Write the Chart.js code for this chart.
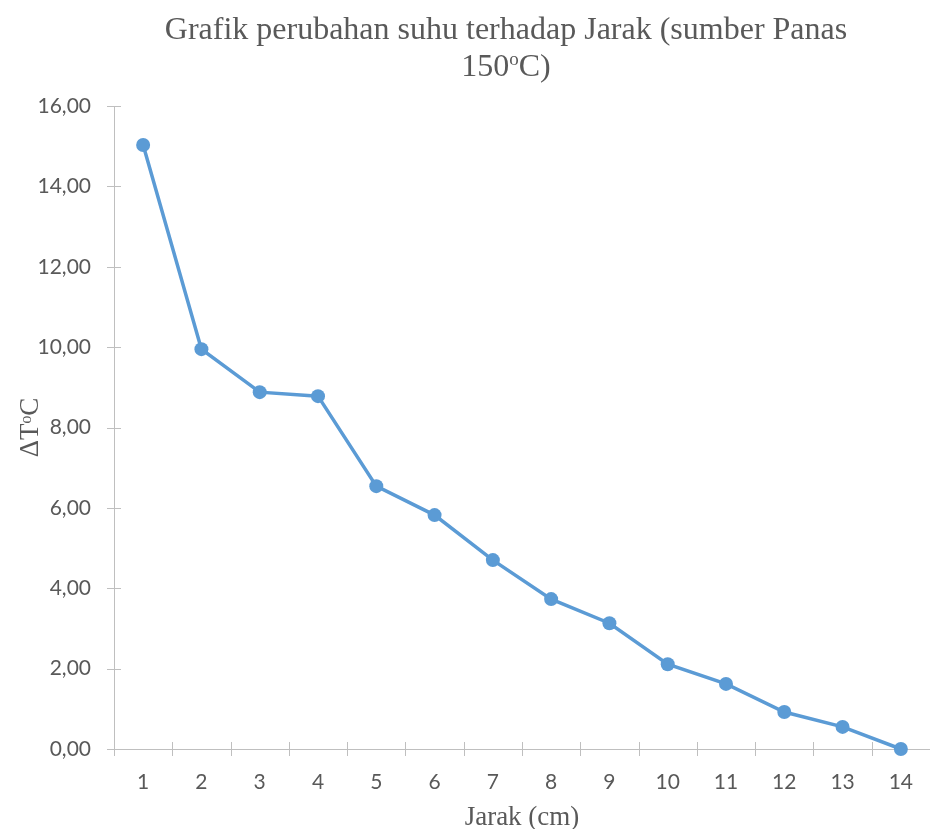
<!DOCTYPE html>
<html>
<head>
<meta charset="utf-8">
<script src="https://cdn.jsdelivr.net/npm/chart.js@4.4.0/dist/chart.umd.min.js"></script>
<style>
  html, body { margin: 0; padding: 0; background: #fff; }
  #wrap { position: relative; width: 930px; height: 829px; }
  #title {
    position: absolute; left: 56px; width: 900px; top: 10px;
    text-align: center; font-family: "Liberation Serif", serif;
    font-size: 32px; line-height: 37px; color: #595959;
  }
  #title sup { font-size: 19px; vertical-align: 11px; line-height: 0; }
  canvas { position: absolute; left: 0; top: 0; }
</style>
</head>
<body>
<div id="wrap">
  <canvas id="suhuChart" width="930" height="829"></canvas>
  <div id="title">Grafik perubahan suhu terhadap Jarak (sumber Panas<br>150<sup>o</sup>C)</div>
</div>
<script>
// Data: jarak (cm) vs perubahan suhu
const jarakLabels = ["1", "2", "3", "4", "5", "6", "7", "8", "9", "10", "11", "12", "13", "14"];
const deltaT = [15.03, 9.95, 8.88, 8.78, 6.54, 5.82, 4.70, 3.73, 3.13, 2.11, 1.62, 0.92, 0.55, 0.00];

const axisGray = "#bfbfbf";
const textGray = "#595959";

// Excel-style "cross" tick marks on both axes
const crossTicks = {
  id: "crossTicks",
  afterDraw(chart) {
    const ctx = chart.ctx;
    const x = chart.scales.x;
    const y = chart.scales.y;
    ctx.save();
    ctx.strokeStyle = axisGray;
    ctx.lineWidth = 1;
    ctx.beginPath();
    y.ticks.forEach((t, i) => {
      const py = Math.round(y.getPixelForTick(i)) + 0.5;
      ctx.moveTo(x.left - 7, py);
      ctx.lineTo(x.left + 7, py);
    });
    for (let i = 0; i <= jarakLabels.length; i++) {
      const px = Math.round(x.getPixelForValue(i - 0.5)) + 0.5;
      ctx.moveTo(px, y.bottom - 7);
      ctx.lineTo(px, y.bottom + 7);
    }
    ctx.stroke();
    ctx.restore();
  },
};

new Chart(document.getElementById("suhuChart").getContext("2d"), {
  type: "line",
  data: {
    labels: jarakLabels,
    datasets: [
      {
        data: deltaT,
        borderColor: "#5b9bd5",
        backgroundColor: "#5b9bd5",
        borderWidth: 3.5,
        pointRadius: 7,
        pointBorderWidth: 0,
        tension: 0,
        clip: false,
      },
    ],
  },
  options: {
    responsive: false,
    animation: false,
    layout: { autoPadding: false, padding: { top: 106, right: 0, left: 15, bottom: 0 } },
    plugins: {
      legend: { display: false },
      tooltip: { enabled: false },
    },
    scales: {
      x: {
        type: "category",
        offset: true,
        grid: { display: false, offset: true },
        border: { color: axisGray, width: 1 },
        afterFit: (scale) => { scale.height = 80; },
        ticks: {
          color: textGray,
          font: { family: "Lato", size: 21 },
          padding: 13,
          maxRotation: 0,
        },
        title: {
          display: true,
          text: "Jarak (cm)",
          color: textGray,
          font: { family: "Liberation Serif", size: 27, lineHeight: 0.85 },
          padding: { top: 0, bottom: 0 },
        },
      },
      y: {
        min: 0,
        max: 16,
        grid: { display: false },
        border: { color: axisGray, width: 1 },
        afterFit: (scale) => { scale.width = 99; },
        ticks: {
          stepSize: 2,
          color: textGray,
          font: { family: "Lato", size: 21 },
          padding: 15,
          callback: (v) => v.toFixed(2).replace(".", ","),
        },
        title: {
          display: true,
          text: "ΔTᵒC",
          color: textGray,
          font: { family: "Liberation Serif", size: 27, lineHeight: 1.2 },
          padding: { top: 0, bottom: 0 },
        },
      },
    },
  },
  plugins: [crossTicks],
});
</script>
</body>
</html>
